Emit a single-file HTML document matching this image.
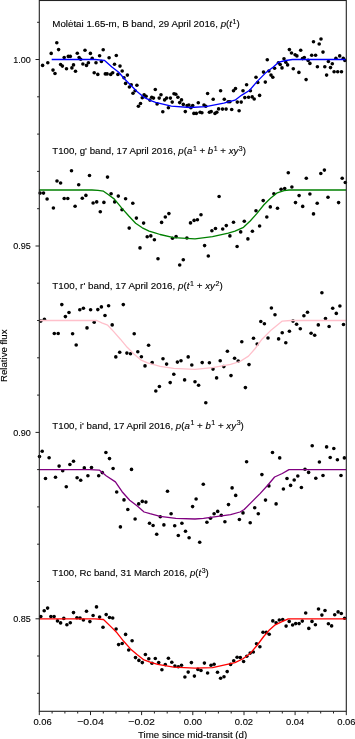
<!DOCTYPE html>
<html><head><meta charset="utf-8"><style>
html,body{margin:0;padding:0;background:#fff;width:355px;height:739px;overflow:hidden}
svg{display:block;filter:blur(0.35px)}
</style></head><body>
<svg width="355" height="739" viewBox="0 0 355 739">
<g fill="#000">
<circle cx="42.6" cy="65.4" r="1.8"/><circle cx="47.8" cy="62.7" r="1.8"/><circle cx="51.2" cy="53.4" r="1.8"/><circle cx="56.8" cy="42.8" r="1.8"/><circle cx="58.6" cy="49.6" r="1.8"/><circle cx="53.0" cy="70.1" r="1.8"/><circle cx="55.0" cy="73.5" r="1.8"/><circle cx="60.6" cy="64.5" r="1.8"/><circle cx="62.4" cy="66.1" r="1.8"/><circle cx="64.2" cy="57.5" r="1.8"/><circle cx="66.5" cy="68.8" r="1.8"/><circle cx="68.3" cy="56.4" r="1.8"/><circle cx="70.3" cy="56.4" r="1.8"/><circle cx="71.9" cy="67.9" r="1.8"/><circle cx="73.5" cy="64.9" r="1.8"/><circle cx="75.5" cy="71.2" r="1.8"/><circle cx="77.3" cy="53.2" r="1.8"/><circle cx="79.1" cy="57.5" r="1.8"/><circle cx="80.7" cy="59.3" r="1.8"/><circle cx="82.9" cy="64.0" r="1.8"/><circle cx="85.0" cy="50.3" r="1.8"/><circle cx="86.5" cy="65.4" r="1.8"/><circle cx="88.4" cy="62.7" r="1.8"/><circle cx="90.4" cy="53.4" r="1.8"/><circle cx="92.2" cy="58.2" r="1.8"/><circle cx="94.2" cy="72.8" r="1.8"/><circle cx="96.0" cy="62.7" r="1.8"/><circle cx="97.8" cy="74.4" r="1.8"/><circle cx="99.6" cy="55.7" r="1.8"/><circle cx="101.4" cy="61.5" r="1.8"/><circle cx="103.2" cy="49.8" r="1.8"/><circle cx="105.3" cy="73.9" r="1.8"/><circle cx="107.1" cy="73.9" r="1.8"/><circle cx="109.1" cy="57.7" r="1.8"/><circle cx="110.7" cy="74.4" r="1.8"/><circle cx="112.7" cy="72.8" r="1.8"/><circle cx="114.5" cy="64.3" r="1.8"/><circle cx="116.3" cy="55.5" r="1.8"/><circle cx="117.9" cy="74.4" r="1.8"/><circle cx="120.0" cy="66.1" r="1.8"/><circle cx="122.2" cy="71.0" r="1.8"/><circle cx="124.0" cy="77.8" r="1.8"/><circle cx="125.6" cy="83.4" r="1.8"/><circle cx="127.4" cy="75.1" r="1.8"/><circle cx="129.4" cy="87.0" r="1.8"/><circle cx="131.2" cy="84.8" r="1.8"/><circle cx="133.0" cy="93.3" r="1.8"/><circle cx="135.1" cy="90.8" r="1.8"/><circle cx="136.9" cy="85.2" r="1.8"/><circle cx="138.4" cy="106.2" r="1.8"/><circle cx="140.5" cy="103.5" r="1.8"/><circle cx="142.3" cy="97.8" r="1.8"/><circle cx="144.1" cy="94.7" r="1.8"/><circle cx="146.1" cy="96.3" r="1.8"/><circle cx="149.9" cy="100.1" r="1.8"/><circle cx="151.7" cy="97.2" r="1.8"/><circle cx="153.5" cy="98.1" r="1.8"/><circle cx="155.3" cy="89.5" r="1.8"/><circle cx="157.1" cy="103.9" r="1.8"/><circle cx="159.2" cy="98.1" r="1.8"/><circle cx="161.0" cy="94.7" r="1.8"/><circle cx="162.8" cy="111.8" r="1.8"/><circle cx="164.6" cy="99.9" r="1.8"/><circle cx="166.6" cy="98.1" r="1.8"/><circle cx="168.4" cy="107.7" r="1.8"/><circle cx="170.4" cy="98.1" r="1.8"/><circle cx="172.2" cy="102.1" r="1.8"/><circle cx="174.0" cy="93.8" r="1.8"/><circle cx="175.8" cy="94.2" r="1.8"/><circle cx="177.9" cy="97.2" r="1.8"/><circle cx="179.7" cy="102.6" r="1.8"/><circle cx="181.5" cy="99.9" r="1.8"/><circle cx="183.3" cy="104.4" r="1.8"/><circle cx="185.3" cy="111.6" r="1.8"/><circle cx="187.1" cy="105.5" r="1.8"/><circle cx="188.9" cy="105.0" r="1.8"/><circle cx="190.9" cy="107.7" r="1.8"/><circle cx="192.7" cy="105.5" r="1.8"/><circle cx="193.9" cy="113.4" r="1.8"/><circle cx="196.3" cy="113.4" r="1.8"/><circle cx="198.3" cy="102.8" r="1.8"/><circle cx="200.1" cy="112.3" r="1.8"/><circle cx="201.9" cy="112.7" r="1.8"/><circle cx="204.0" cy="105.0" r="1.8"/><circle cx="205.8" cy="106.2" r="1.8"/><circle cx="207.6" cy="93.5" r="1.8"/><circle cx="209.4" cy="112.3" r="1.8"/><circle cx="211.2" cy="111.6" r="1.8"/><circle cx="213.2" cy="99.2" r="1.8"/><circle cx="215.0" cy="113.4" r="1.8"/><circle cx="216.8" cy="112.3" r="1.8"/><circle cx="218.6" cy="108.9" r="1.8"/><circle cx="220.6" cy="90.8" r="1.8"/><circle cx="222.5" cy="109.1" r="1.8"/><circle cx="224.3" cy="99.2" r="1.8"/><circle cx="226.1" cy="109.1" r="1.8"/><circle cx="228.1" cy="101.7" r="1.8"/><circle cx="229.9" cy="101.7" r="1.8"/><circle cx="231.7" cy="109.5" r="1.8"/><circle cx="233.5" cy="90.8" r="1.8"/><circle cx="235.5" cy="88.6" r="1.8"/><circle cx="237.3" cy="102.1" r="1.8"/><circle cx="239.1" cy="110.7" r="1.8"/><circle cx="241.2" cy="102.1" r="1.8"/><circle cx="243.0" cy="90.8" r="1.8"/><circle cx="244.8" cy="97.6" r="1.8"/><circle cx="246.6" cy="84.8" r="1.8"/><circle cx="248.6" cy="97.2" r="1.8"/><circle cx="250.4" cy="90.8" r="1.8"/><circle cx="252.2" cy="96.9" r="1.8"/><circle cx="254.2" cy="99.0" r="1.8"/><circle cx="256.0" cy="77.3" r="1.8"/><circle cx="257.8" cy="82.5" r="1.8"/><circle cx="259.6" cy="95.4" r="1.8"/><circle cx="263.5" cy="72.1" r="1.8"/><circle cx="265.3" cy="82.1" r="1.8"/><circle cx="267.3" cy="59.7" r="1.8"/><circle cx="268.9" cy="71.0" r="1.8"/><circle cx="271.0" cy="75.1" r="1.8"/><circle cx="272.8" cy="77.3" r="1.8"/><circle cx="274.6" cy="68.3" r="1.8"/><circle cx="278.4" cy="62.7" r="1.8"/><circle cx="280.2" cy="64.5" r="1.8"/><circle cx="282.0" cy="67.9" r="1.8"/><circle cx="284.0" cy="58.8" r="1.8"/><circle cx="285.8" cy="62.2" r="1.8"/><circle cx="287.6" cy="64.9" r="1.8"/><circle cx="289.4" cy="49.6" r="1.8"/><circle cx="291.5" cy="53.0" r="1.8"/><circle cx="293.3" cy="68.8" r="1.8"/><circle cx="295.1" cy="54.8" r="1.8"/><circle cx="296.9" cy="55.9" r="1.8"/><circle cx="298.9" cy="72.4" r="1.8"/><circle cx="300.7" cy="50.3" r="1.8"/><circle cx="302.5" cy="58.6" r="1.8"/><circle cx="304.3" cy="57.5" r="1.8"/><circle cx="306.1" cy="79.6" r="1.8"/><circle cx="308.1" cy="60.4" r="1.8"/><circle cx="309.9" cy="63.4" r="1.8"/><circle cx="311.7" cy="55.2" r="1.8"/><circle cx="313.5" cy="41.7" r="1.8"/><circle cx="315.6" cy="55.2" r="1.8"/><circle cx="317.4" cy="66.7" r="1.8"/><circle cx="319.2" cy="44.0" r="1.8"/><circle cx="321.0" cy="39.0" r="1.8"/><circle cx="323.0" cy="52.1" r="1.8"/><circle cx="324.8" cy="66.7" r="1.8"/><circle cx="326.6" cy="75.1" r="1.8"/><circle cx="328.4" cy="61.5" r="1.8"/><circle cx="330.5" cy="67.6" r="1.8"/><circle cx="332.3" cy="63.8" r="1.8"/><circle cx="334.1" cy="71.7" r="1.8"/><circle cx="335.9" cy="58.2" r="1.8"/><circle cx="337.7" cy="71.7" r="1.8"/><circle cx="339.7" cy="55.9" r="1.8"/><circle cx="341.5" cy="71.7" r="1.8"/><circle cx="343.3" cy="58.2" r="1.8"/><circle cx="344.9" cy="60.4" r="1.8"/>
<circle cx="40.1" cy="193.1" r="1.8"/><circle cx="43.5" cy="193.1" r="1.8"/><circle cx="47.1" cy="199.0" r="1.8"/><circle cx="53.4" cy="208.0" r="1.8"/><circle cx="57.0" cy="181.0" r="1.8"/><circle cx="60.6" cy="183.0" r="1.8"/><circle cx="64.2" cy="198.5" r="1.8"/><circle cx="67.8" cy="198.5" r="1.8"/><circle cx="71.5" cy="170.8" r="1.8"/><circle cx="75.1" cy="206.2" r="1.8"/><circle cx="78.7" cy="184.8" r="1.8"/><circle cx="82.3" cy="198.3" r="1.8"/><circle cx="85.9" cy="195.4" r="1.8"/><circle cx="89.5" cy="175.5" r="1.8"/><circle cx="93.1" cy="203.0" r="1.8"/><circle cx="96.7" cy="201.9" r="1.8"/><circle cx="100.3" cy="211.8" r="1.8"/><circle cx="103.9" cy="202.4" r="1.8"/><circle cx="107.5" cy="177.1" r="1.8"/><circle cx="111.1" cy="193.8" r="1.8"/><circle cx="114.7" cy="201.9" r="1.8"/><circle cx="118.3" cy="196.1" r="1.8"/><circle cx="122.0" cy="209.8" r="1.8"/><circle cx="125.6" cy="198.8" r="1.8"/><circle cx="129.2" cy="228.1" r="1.8"/><circle cx="132.8" cy="203.3" r="1.8"/><circle cx="136.4" cy="218.1" r="1.8"/><circle cx="140.0" cy="247.9" r="1.8"/><circle cx="143.6" cy="223.1" r="1.8"/><circle cx="147.2" cy="236.8" r="1.8"/><circle cx="150.8" cy="235.9" r="1.8"/><circle cx="154.4" cy="239.8" r="1.8"/><circle cx="158.0" cy="258.7" r="1.8"/><circle cx="161.6" cy="222.4" r="1.8"/><circle cx="165.3" cy="217.0" r="1.8"/><circle cx="168.9" cy="213.6" r="1.8"/><circle cx="172.5" cy="238.2" r="1.8"/><circle cx="176.1" cy="236.6" r="1.8"/><circle cx="179.7" cy="265.0" r="1.8"/><circle cx="183.3" cy="259.8" r="1.8"/><circle cx="186.9" cy="238.0" r="1.8"/><circle cx="190.5" cy="222.9" r="1.8"/><circle cx="194.1" cy="220.4" r="1.8"/><circle cx="197.4" cy="219.7" r="1.8"/><circle cx="201.0" cy="214.8" r="1.8"/><circle cx="204.6" cy="245.6" r="1.8"/><circle cx="208.3" cy="256.0" r="1.8"/><circle cx="211.9" cy="230.8" r="1.8"/><circle cx="215.5" cy="228.5" r="1.8"/><circle cx="219.1" cy="196.5" r="1.8"/><circle cx="222.7" cy="229.0" r="1.8"/><circle cx="226.3" cy="225.6" r="1.8"/><circle cx="229.9" cy="235.9" r="1.8"/><circle cx="233.5" cy="222.2" r="1.8"/><circle cx="237.1" cy="246.5" r="1.8"/><circle cx="240.7" cy="231.9" r="1.8"/><circle cx="244.3" cy="221.3" r="1.8"/><circle cx="247.9" cy="238.9" r="1.8"/><circle cx="252.4" cy="231.2" r="1.8"/><circle cx="256.0" cy="210.7" r="1.8"/><circle cx="259.6" cy="226.0" r="1.8"/><circle cx="263.2" cy="200.6" r="1.8"/><circle cx="266.8" cy="217.0" r="1.8"/><circle cx="270.3" cy="206.9" r="1.8"/><circle cx="273.9" cy="193.8" r="1.8"/><circle cx="277.5" cy="208.2" r="1.8"/><circle cx="281.1" cy="189.3" r="1.8"/><circle cx="284.7" cy="188.6" r="1.8"/><circle cx="288.3" cy="172.8" r="1.8"/><circle cx="291.9" cy="187.0" r="1.8"/><circle cx="295.5" cy="202.6" r="1.8"/><circle cx="299.1" cy="195.6" r="1.8"/><circle cx="302.7" cy="206.4" r="1.8"/><circle cx="306.3" cy="178.3" r="1.8"/><circle cx="309.9" cy="194.0" r="1.8"/><circle cx="313.5" cy="213.9" r="1.8"/><circle cx="317.2" cy="203.3" r="1.8"/><circle cx="320.8" cy="173.5" r="1.8"/><circle cx="324.4" cy="170.1" r="1.8"/><circle cx="328.0" cy="197.2" r="1.8"/><circle cx="338.6" cy="202.6" r="1.8"/><circle cx="342.2" cy="178.3" r="1.8"/><circle cx="345.3" cy="182.5" r="1.8"/>
<circle cx="40.8" cy="321.1" r="1.8"/><circle cx="44.4" cy="319.3" r="1.8"/><circle cx="54.3" cy="333.5" r="1.8"/><circle cx="58.2" cy="333.5" r="1.8"/><circle cx="61.8" cy="304.6" r="1.8"/><circle cx="65.4" cy="316.6" r="1.8"/><circle cx="69.0" cy="312.5" r="1.8"/><circle cx="72.6" cy="333.7" r="1.8"/><circle cx="76.2" cy="345.0" r="1.8"/><circle cx="79.8" cy="309.8" r="1.8"/><circle cx="83.4" cy="308.3" r="1.8"/><circle cx="87.0" cy="327.9" r="1.8"/><circle cx="90.6" cy="309.8" r="1.8"/><circle cx="94.2" cy="322.2" r="1.8"/><circle cx="97.8" cy="309.6" r="1.8"/><circle cx="101.4" cy="306.9" r="1.8"/><circle cx="105.0" cy="315.5" r="1.8"/><circle cx="108.6" cy="305.8" r="1.8"/><circle cx="112.2" cy="324.9" r="1.8"/><circle cx="115.8" cy="356.9" r="1.8"/><circle cx="119.7" cy="352.2" r="1.8"/><circle cx="123.3" cy="304.6" r="1.8"/><circle cx="126.9" cy="353.1" r="1.8"/><circle cx="130.5" cy="353.8" r="1.8"/><circle cx="134.2" cy="333.7" r="1.8"/><circle cx="137.8" cy="351.7" r="1.8"/><circle cx="141.4" cy="356.7" r="1.8"/><circle cx="145.0" cy="365.9" r="1.8"/><circle cx="148.6" cy="345.2" r="1.8"/><circle cx="152.2" cy="362.6" r="1.8"/><circle cx="155.8" cy="391.0" r="1.8"/><circle cx="159.4" cy="386.5" r="1.8"/><circle cx="163.0" cy="358.7" r="1.8"/><circle cx="166.6" cy="364.1" r="1.8"/><circle cx="170.2" cy="382.6" r="1.8"/><circle cx="173.8" cy="374.3" r="1.8"/><circle cx="177.4" cy="362.1" r="1.8"/><circle cx="181.0" cy="360.8" r="1.8"/><circle cx="184.6" cy="379.9" r="1.8"/><circle cx="188.2" cy="356.9" r="1.8"/><circle cx="191.8" cy="365.0" r="1.8"/><circle cx="195.0" cy="381.7" r="1.8"/><circle cx="198.6" cy="385.3" r="1.8"/><circle cx="202.2" cy="362.6" r="1.8"/><circle cx="205.8" cy="402.7" r="1.8"/><circle cx="209.4" cy="362.8" r="1.8"/><circle cx="213.0" cy="369.1" r="1.8"/><circle cx="216.6" cy="377.9" r="1.8"/><circle cx="220.2" cy="360.8" r="1.8"/><circle cx="223.8" cy="366.6" r="1.8"/><circle cx="227.4" cy="351.3" r="1.8"/><circle cx="231.0" cy="375.6" r="1.8"/><circle cx="234.6" cy="358.3" r="1.8"/><circle cx="238.2" cy="361.0" r="1.8"/><circle cx="241.8" cy="341.8" r="1.8"/><circle cx="245.4" cy="387.6" r="1.8"/><circle cx="249.0" cy="364.6" r="1.8"/><circle cx="253.5" cy="338.2" r="1.8"/><circle cx="257.2" cy="344.1" r="1.8"/><circle cx="260.8" cy="321.5" r="1.8"/><circle cx="264.4" cy="323.8" r="1.8"/><circle cx="268.0" cy="338.0" r="1.8"/><circle cx="271.4" cy="308.0" r="1.8"/><circle cx="275.0" cy="314.8" r="1.8"/><circle cx="278.6" cy="338.9" r="1.8"/><circle cx="282.2" cy="332.8" r="1.8"/><circle cx="285.8" cy="342.7" r="1.8"/><circle cx="289.4" cy="331.2" r="1.8"/><circle cx="293.0" cy="321.1" r="1.8"/><circle cx="296.6" cy="324.3" r="1.8"/><circle cx="300.3" cy="328.8" r="1.8"/><circle cx="303.9" cy="315.7" r="1.8"/><circle cx="307.5" cy="312.3" r="1.8"/><circle cx="311.1" cy="333.3" r="1.8"/><circle cx="314.7" cy="335.3" r="1.8"/><circle cx="318.3" cy="324.9" r="1.8"/><circle cx="321.9" cy="292.7" r="1.8"/><circle cx="325.5" cy="318.6" r="1.8"/><circle cx="329.1" cy="326.5" r="1.8"/><circle cx="332.7" cy="308.3" r="1.8"/><circle cx="336.3" cy="313.4" r="1.8"/><circle cx="339.9" cy="306.0" r="1.8"/><circle cx="343.5" cy="324.5" r="1.8"/>
<circle cx="39.5" cy="456.6" r="1.8"/><circle cx="42.2" cy="451.2" r="1.8"/><circle cx="45.5" cy="478.5" r="1.8"/><circle cx="49.1" cy="457.7" r="1.8"/><circle cx="55.5" cy="477.3" r="1.8"/><circle cx="59.1" cy="466.1" r="1.8"/><circle cx="62.7" cy="470.8" r="1.8"/><circle cx="66.3" cy="486.8" r="1.8"/><circle cx="69.9" cy="464.5" r="1.8"/><circle cx="73.5" cy="461.3" r="1.8"/><circle cx="77.1" cy="477.8" r="1.8"/><circle cx="80.7" cy="480.3" r="1.8"/><circle cx="84.3" cy="467.9" r="1.8"/><circle cx="87.9" cy="475.7" r="1.8"/><circle cx="91.5" cy="467.6" r="1.8"/><circle cx="98.7" cy="475.7" r="1.8"/><circle cx="102.3" cy="472.6" r="1.8"/><circle cx="105.9" cy="452.5" r="1.8"/><circle cx="109.5" cy="458.6" r="1.8"/><circle cx="113.1" cy="468.5" r="1.8"/><circle cx="116.7" cy="492.0" r="1.8"/><circle cx="120.4" cy="526.9" r="1.8"/><circle cx="124.0" cy="499.9" r="1.8"/><circle cx="127.8" cy="509.5" r="1.8"/><circle cx="131.5" cy="469.4" r="1.8"/><circle cx="135.1" cy="519.0" r="1.8"/><circle cx="138.7" cy="503.9" r="1.8"/><circle cx="142.3" cy="501.4" r="1.8"/><circle cx="145.9" cy="502.1" r="1.8"/><circle cx="149.5" cy="523.3" r="1.8"/><circle cx="153.1" cy="525.5" r="1.8"/><circle cx="156.7" cy="534.3" r="1.8"/><circle cx="160.3" cy="516.8" r="1.8"/><circle cx="163.9" cy="524.9" r="1.8"/><circle cx="167.5" cy="491.3" r="1.8"/><circle cx="171.1" cy="513.8" r="1.8"/><circle cx="174.7" cy="525.8" r="1.8"/><circle cx="178.3" cy="535.5" r="1.8"/><circle cx="181.9" cy="523.3" r="1.8"/><circle cx="185.5" cy="531.2" r="1.8"/><circle cx="189.1" cy="537.7" r="1.8"/><circle cx="192.6" cy="506.6" r="1.8"/><circle cx="196.1" cy="499.0" r="1.8"/><circle cx="199.7" cy="542.2" r="1.8"/><circle cx="203.3" cy="484.3" r="1.8"/><circle cx="206.9" cy="522.2" r="1.8"/><circle cx="210.5" cy="518.3" r="1.8"/><circle cx="214.1" cy="513.8" r="1.8"/><circle cx="217.7" cy="511.4" r="1.8"/><circle cx="221.3" cy="515.2" r="1.8"/><circle cx="224.9" cy="521.7" r="1.8"/><circle cx="228.5" cy="504.6" r="1.8"/><circle cx="232.1" cy="487.9" r="1.8"/><circle cx="235.7" cy="495.4" r="1.8"/><circle cx="239.4" cy="519.5" r="1.8"/><circle cx="243.0" cy="512.9" r="1.8"/><circle cx="246.6" cy="461.8" r="1.8"/><circle cx="250.2" cy="522.8" r="1.8"/><circle cx="254.7" cy="507.7" r="1.8"/><circle cx="258.3" cy="513.8" r="1.8"/><circle cx="261.9" cy="474.6" r="1.8"/><circle cx="265.5" cy="500.1" r="1.8"/><circle cx="268.9" cy="485.9" r="1.8"/><circle cx="272.5" cy="452.5" r="1.8"/><circle cx="276.1" cy="503.9" r="1.8"/><circle cx="279.7" cy="457.9" r="1.8"/><circle cx="283.4" cy="489.0" r="1.8"/><circle cx="287.0" cy="478.5" r="1.8"/><circle cx="290.6" cy="485.4" r="1.8"/><circle cx="294.2" cy="480.0" r="1.8"/><circle cx="297.8" cy="476.0" r="1.8"/><circle cx="301.4" cy="487.5" r="1.8"/><circle cx="305.0" cy="469.2" r="1.8"/><circle cx="308.6" cy="472.4" r="1.8"/><circle cx="312.2" cy="445.8" r="1.8"/><circle cx="315.8" cy="478.2" r="1.8"/><circle cx="319.4" cy="462.0" r="1.8"/><circle cx="323.0" cy="475.5" r="1.8"/><circle cx="326.6" cy="446.9" r="1.8"/><circle cx="330.2" cy="457.5" r="1.8"/><circle cx="333.8" cy="448.5" r="1.8"/><circle cx="337.4" cy="459.7" r="1.8"/><circle cx="341.0" cy="475.5" r="1.8"/><circle cx="344.4" cy="457.9" r="1.8"/>
<circle cx="40.8" cy="616.6" r="1.8"/><circle cx="44.2" cy="610.8" r="1.8"/><circle cx="47.6" cy="608.1" r="1.8"/><circle cx="50.9" cy="616.6" r="1.8"/><circle cx="54.1" cy="616.6" r="1.8"/><circle cx="57.5" cy="620.9" r="1.8"/><circle cx="60.6" cy="622.9" r="1.8"/><circle cx="63.8" cy="618.4" r="1.8"/><circle cx="66.9" cy="624.7" r="1.8"/><circle cx="70.3" cy="622.7" r="1.8"/><circle cx="73.5" cy="612.6" r="1.8"/><circle cx="76.9" cy="617.8" r="1.8"/><circle cx="80.0" cy="618.0" r="1.8"/><circle cx="83.4" cy="620.0" r="1.8"/><circle cx="86.5" cy="611.2" r="1.8"/><circle cx="89.9" cy="621.6" r="1.8"/><circle cx="93.1" cy="615.5" r="1.8"/><circle cx="96.5" cy="606.9" r="1.8"/><circle cx="99.6" cy="617.1" r="1.8"/><circle cx="103.0" cy="627.2" r="1.8"/><circle cx="106.2" cy="614.6" r="1.8"/><circle cx="109.5" cy="617.5" r="1.8"/><circle cx="112.7" cy="618.0" r="1.8"/><circle cx="116.1" cy="629.0" r="1.8"/><circle cx="118.6" cy="644.6" r="1.8"/><circle cx="122.2" cy="643.5" r="1.8"/><circle cx="125.6" cy="634.4" r="1.8"/><circle cx="128.7" cy="650.0" r="1.8"/><circle cx="132.1" cy="640.7" r="1.8"/><circle cx="135.5" cy="657.6" r="1.8"/><circle cx="138.9" cy="660.4" r="1.8"/><circle cx="142.3" cy="662.6" r="1.8"/><circle cx="145.4" cy="654.5" r="1.8"/><circle cx="148.8" cy="658.8" r="1.8"/><circle cx="152.0" cy="663.3" r="1.8"/><circle cx="155.3" cy="658.5" r="1.8"/><circle cx="158.7" cy="662.6" r="1.8"/><circle cx="161.9" cy="669.8" r="1.8"/><circle cx="165.3" cy="664.6" r="1.8"/><circle cx="168.4" cy="658.3" r="1.8"/><circle cx="171.8" cy="662.2" r="1.8"/><circle cx="174.9" cy="666.0" r="1.8"/><circle cx="178.3" cy="666.7" r="1.8"/><circle cx="181.5" cy="665.3" r="1.8"/><circle cx="184.9" cy="677.0" r="1.8"/><circle cx="188.2" cy="672.1" r="1.8"/><circle cx="191.4" cy="662.6" r="1.8"/><circle cx="194.4" cy="676.1" r="1.8"/><circle cx="197.9" cy="669.4" r="1.8"/><circle cx="201.0" cy="670.5" r="1.8"/><circle cx="204.4" cy="663.1" r="1.8"/><circle cx="207.6" cy="673.0" r="1.8"/><circle cx="211.0" cy="665.3" r="1.8"/><circle cx="214.1" cy="664.2" r="1.8"/><circle cx="217.5" cy="672.3" r="1.8"/><circle cx="220.6" cy="678.2" r="1.8"/><circle cx="224.0" cy="676.8" r="1.8"/><circle cx="227.2" cy="671.6" r="1.8"/><circle cx="230.6" cy="664.4" r="1.8"/><circle cx="233.7" cy="660.8" r="1.8"/><circle cx="237.1" cy="657.2" r="1.8"/><circle cx="240.3" cy="657.6" r="1.8"/><circle cx="243.6" cy="661.5" r="1.8"/><circle cx="246.8" cy="656.3" r="1.8"/><circle cx="250.2" cy="653.1" r="1.8"/><circle cx="253.3" cy="652.0" r="1.8"/><circle cx="256.5" cy="643.7" r="1.8"/><circle cx="259.9" cy="646.8" r="1.8"/><circle cx="263.0" cy="632.2" r="1.8"/><circle cx="266.3" cy="632.4" r="1.8"/><circle cx="269.2" cy="634.3" r="1.8"/><circle cx="272.8" cy="620.9" r="1.8"/><circle cx="276.1" cy="622.7" r="1.8"/><circle cx="279.3" cy="620.0" r="1.8"/><circle cx="282.7" cy="619.6" r="1.8"/><circle cx="286.1" cy="626.1" r="1.8"/><circle cx="289.2" cy="621.4" r="1.8"/><circle cx="292.6" cy="625.0" r="1.8"/><circle cx="295.7" cy="623.6" r="1.8"/><circle cx="299.1" cy="623.6" r="1.8"/><circle cx="302.3" cy="621.1" r="1.8"/><circle cx="305.7" cy="613.0" r="1.8"/><circle cx="308.8" cy="628.4" r="1.8"/><circle cx="312.0" cy="621.4" r="1.8"/><circle cx="315.4" cy="624.7" r="1.8"/><circle cx="318.5" cy="609.0" r="1.8"/><circle cx="321.9" cy="615.1" r="1.8"/><circle cx="325.0" cy="610.5" r="1.8"/><circle cx="328.4" cy="623.8" r="1.8"/><circle cx="331.6" cy="625.9" r="1.8"/><circle cx="334.7" cy="614.8" r="1.8"/><circle cx="338.1" cy="611.9" r="1.8"/><circle cx="341.3" cy="613.5" r="1.8"/><circle cx="344.6" cy="618.2" r="1.8"/>
</g>
<polyline points="51.7,59.5 95.0,59.5 104.3,60.3 111.9,66.9 118.7,72.3 124.6,79.0 130.5,85.0 137.3,91.7 144.0,97.3 150.8,100.7 155.6,102.3 171.3,106.2 190.0,107.5 205.8,106.6 223.8,103.2 235.0,100.2 241.8,95.1 249.4,90.5 257.0,81.6 265.4,73.1 273.0,67.2 278.9,62.1 285.7,60.5 292.5,59.5 345.5,59.5" fill="none" stroke="#0000ff" stroke-width="1.3" stroke-linejoin="round"/>
<polyline points="39.0,190.0 92.0,190.0 98.0,190.3 103.5,191.2 108.5,194.8 114.4,199.1 122.0,208.4 128.8,216.0 135.6,223.2 142.3,227.8 149.1,231.2 155.0,232.9 160.1,234.5 173.6,237.7 195.0,238.9 212.5,236.6 228.3,233.2 235.0,231.2 243.5,227.3 250.2,221.0 257.0,213.4 263.7,205.0 270.5,198.2 277.3,192.8 284.0,190.6 289.1,190.0 346.0,190.0" fill="none" stroke="#008000" stroke-width="1.3" stroke-linejoin="round"/>
<polyline points="39.0,320.5 96.8,320.5 101.8,322.8 107.7,325.2 113.7,331.6 120.4,339.2 127.2,347.3 133.9,353.9 140.7,359.8 147.5,362.9 160.1,366.4 173.6,368.4 195.0,369.3 212.5,367.7 230.6,364.4 240.0,361.5 248.5,356.1 255.2,348.5 262.0,339.2 271.3,329.9 282.3,321.1 290.7,320.5 346.0,320.5" fill="none" stroke="#ffc0cb" stroke-width="1.3" stroke-linejoin="round"/>
<polyline points="39.0,469.6 90.0,469.6 99.3,470.1 106.1,475.7 115.4,481.9 122.1,491.7 129.7,500.2 137.3,506.1 144.1,512.0 150.0,513.7 160.1,516.3 175.8,518.3 195.0,519.0 203.5,518.3 230.6,514.7 240.0,512.0 244.2,509.5 251.8,501.9 260.3,493.4 267.9,485.0 274.6,477.0 282.3,473.5 289.0,469.6 346.0,469.6" fill="none" stroke="#800080" stroke-width="1.3" stroke-linejoin="round"/>
<polyline points="39.0,618.8 95.0,618.8 103.5,619.5 111.1,626.9 117.0,632.8 123.7,641.3 130.5,648.9 137.3,654.8 144.0,659.9 150.8,662.4 157.8,664.4 173.6,667.1 195.0,668.2 212.5,667.6 235.0,662.7 242.6,659.0 250.2,653.4 257.0,645.5 263.7,636.5 268.8,630.6 274.7,625.2 281.5,621.8 288.2,618.8 346.0,618.8" fill="none" stroke="#ff0000" stroke-width="1.3" stroke-linejoin="round"/>
<rect x="39.3" y="0.5" width="307.0" height="710.8" fill="none" stroke="#222" stroke-width="1.1"/>
<line x1="37.1" y1="693.3" x2="39.3" y2="693.3" stroke="#222" stroke-width="1"/>
<line x1="37.1" y1="656.0" x2="39.3" y2="656.0" stroke="#222" stroke-width="1"/>
<line x1="35.5" y1="618.8" x2="39.3" y2="618.8" stroke="#222" stroke-width="1"/>
<line x1="37.1" y1="581.5" x2="39.3" y2="581.5" stroke="#222" stroke-width="1"/>
<line x1="37.1" y1="544.2" x2="39.3" y2="544.2" stroke="#222" stroke-width="1"/>
<line x1="37.1" y1="506.9" x2="39.3" y2="506.9" stroke="#222" stroke-width="1"/>
<line x1="37.1" y1="469.6" x2="39.3" y2="469.6" stroke="#222" stroke-width="1"/>
<line x1="35.5" y1="432.4" x2="39.3" y2="432.4" stroke="#222" stroke-width="1"/>
<line x1="37.1" y1="395.1" x2="39.3" y2="395.1" stroke="#222" stroke-width="1"/>
<line x1="37.1" y1="357.8" x2="39.3" y2="357.8" stroke="#222" stroke-width="1"/>
<line x1="37.1" y1="320.5" x2="39.3" y2="320.5" stroke="#222" stroke-width="1"/>
<line x1="37.1" y1="283.2" x2="39.3" y2="283.2" stroke="#222" stroke-width="1"/>
<line x1="35.5" y1="246.0" x2="39.3" y2="246.0" stroke="#222" stroke-width="1"/>
<line x1="37.1" y1="208.7" x2="39.3" y2="208.7" stroke="#222" stroke-width="1"/>
<line x1="37.1" y1="171.4" x2="39.3" y2="171.4" stroke="#222" stroke-width="1"/>
<line x1="37.1" y1="134.1" x2="39.3" y2="134.1" stroke="#222" stroke-width="1"/>
<line x1="37.1" y1="96.8" x2="39.3" y2="96.8" stroke="#222" stroke-width="1"/>
<line x1="35.5" y1="59.5" x2="39.3" y2="59.5" stroke="#222" stroke-width="1"/>
<line x1="37.1" y1="22.3" x2="39.3" y2="22.3" stroke="#222" stroke-width="1"/>
<line x1="39.3" y1="711.3" x2="39.3" y2="715.1" stroke="#222" stroke-width="1"/>
<line x1="52.1" y1="711.3" x2="52.1" y2="713.5" stroke="#222" stroke-width="1"/>
<line x1="64.9" y1="711.3" x2="64.9" y2="713.5" stroke="#222" stroke-width="1"/>
<line x1="77.7" y1="711.3" x2="77.7" y2="713.5" stroke="#222" stroke-width="1"/>
<line x1="90.5" y1="711.3" x2="90.5" y2="715.1" stroke="#222" stroke-width="1"/>
<line x1="103.3" y1="711.3" x2="103.3" y2="713.5" stroke="#222" stroke-width="1"/>
<line x1="116.0" y1="711.3" x2="116.0" y2="713.5" stroke="#222" stroke-width="1"/>
<line x1="128.8" y1="711.3" x2="128.8" y2="713.5" stroke="#222" stroke-width="1"/>
<line x1="141.6" y1="711.3" x2="141.6" y2="715.1" stroke="#222" stroke-width="1"/>
<line x1="154.4" y1="711.3" x2="154.4" y2="713.5" stroke="#222" stroke-width="1"/>
<line x1="167.2" y1="711.3" x2="167.2" y2="713.5" stroke="#222" stroke-width="1"/>
<line x1="180.0" y1="711.3" x2="180.0" y2="713.5" stroke="#222" stroke-width="1"/>
<line x1="192.8" y1="711.3" x2="192.8" y2="715.1" stroke="#222" stroke-width="1"/>
<line x1="205.6" y1="711.3" x2="205.6" y2="713.5" stroke="#222" stroke-width="1"/>
<line x1="218.4" y1="711.3" x2="218.4" y2="713.5" stroke="#222" stroke-width="1"/>
<line x1="231.2" y1="711.3" x2="231.2" y2="713.5" stroke="#222" stroke-width="1"/>
<line x1="244.0" y1="711.3" x2="244.0" y2="715.1" stroke="#222" stroke-width="1"/>
<line x1="256.8" y1="711.3" x2="256.8" y2="713.5" stroke="#222" stroke-width="1"/>
<line x1="269.6" y1="711.3" x2="269.6" y2="713.5" stroke="#222" stroke-width="1"/>
<line x1="282.3" y1="711.3" x2="282.3" y2="713.5" stroke="#222" stroke-width="1"/>
<line x1="295.1" y1="711.3" x2="295.1" y2="715.1" stroke="#222" stroke-width="1"/>
<line x1="307.9" y1="711.3" x2="307.9" y2="713.5" stroke="#222" stroke-width="1"/>
<line x1="320.7" y1="711.3" x2="320.7" y2="713.5" stroke="#222" stroke-width="1"/>
<line x1="333.5" y1="711.3" x2="333.5" y2="713.5" stroke="#222" stroke-width="1"/>
<line x1="346.3" y1="711.3" x2="346.3" y2="715.1" stroke="#222" stroke-width="1"/>
<text x="30.8" y="62.8" font-family="Liberation Sans, sans-serif" stroke="#000" stroke-width="0.12" font-size="9.3" text-anchor="end" textLength="17.6" lengthAdjust="spacingAndGlyphs" fill="#000">1.00</text>
<text x="30.8" y="249.3" font-family="Liberation Sans, sans-serif" stroke="#000" stroke-width="0.12" font-size="9.3" text-anchor="end" textLength="17.6" lengthAdjust="spacingAndGlyphs" fill="#000">0.95</text>
<text x="30.8" y="435.6" font-family="Liberation Sans, sans-serif" stroke="#000" stroke-width="0.12" font-size="9.3" text-anchor="end" textLength="17.6" lengthAdjust="spacingAndGlyphs" fill="#000">0.90</text>
<text x="30.8" y="622.0" font-family="Liberation Sans, sans-serif" stroke="#000" stroke-width="0.12" font-size="9.3" text-anchor="end" textLength="17.6" lengthAdjust="spacingAndGlyphs" fill="#000">0.85</text>
<text x="33.4" y="725.4" font-family="Liberation Sans, sans-serif" stroke="#000" stroke-width="0.12" font-size="9.3" textLength="18.3" lengthAdjust="spacingAndGlyphs">0.06</text>
<text x="77.2" y="725.4" font-family="Liberation Sans, sans-serif" stroke="#000" stroke-width="0.12" font-size="9.3" textLength="26.6" lengthAdjust="spacingAndGlyphs">−0.04</text>
<text x="128.3" y="725.4" font-family="Liberation Sans, sans-serif" stroke="#000" stroke-width="0.12" font-size="9.3" textLength="26.6" lengthAdjust="spacingAndGlyphs">−0.02</text>
<text x="183.7" y="725.4" font-family="Liberation Sans, sans-serif" stroke="#000" stroke-width="0.12" font-size="9.3" textLength="18.3" lengthAdjust="spacingAndGlyphs">0.00</text>
<text x="234.8" y="725.4" font-family="Liberation Sans, sans-serif" stroke="#000" stroke-width="0.12" font-size="9.3" textLength="18.3" lengthAdjust="spacingAndGlyphs">0.02</text>
<text x="286.0" y="725.4" font-family="Liberation Sans, sans-serif" stroke="#000" stroke-width="0.12" font-size="9.3" textLength="18.3" lengthAdjust="spacingAndGlyphs">0.04</text>
<text x="337.2" y="725.4" font-family="Liberation Sans, sans-serif" stroke="#000" stroke-width="0.12" font-size="9.3" textLength="18.3" lengthAdjust="spacingAndGlyphs">0.06</text>
<text x="138.0" y="737.7" font-family="Liberation Sans, sans-serif" stroke="#000" stroke-width="0.12" font-size="8.8" textLength="109.2" lengthAdjust="spacingAndGlyphs">Time since mid-transit (d)</text>
<text transform="translate(7.2,382) rotate(-90)" x="0" y="0" font-family="Liberation Sans, sans-serif" stroke="#000" stroke-width="0.12" font-size="8.8" textLength="52.5" lengthAdjust="spacingAndGlyphs">Relative flux</text>
<text x="52.3" y="27.0" font-family="Liberation Sans, sans-serif" stroke="#000" stroke-width="0.12" font-size="8.9" textLength="187.5" lengthAdjust="spacingAndGlyphs"><tspan>Molėtai 1.65-m, B band, 29 April 2016, </tspan><tspan font-style="italic">p</tspan><tspan>(</tspan><tspan font-style="italic">t</tspan><tspan font-size="6.4" dx="0.5" dy="-3.3">1</tspan><tspan dy="3.3">)</tspan></text>
<text x="52.3" y="154.3" font-family="Liberation Sans, sans-serif" stroke="#000" stroke-width="0.12" font-size="8.9" textLength="193.7" lengthAdjust="spacingAndGlyphs"><tspan>T100, g' band, 17 April 2016, </tspan><tspan font-style="italic">p</tspan><tspan>(</tspan><tspan font-style="italic">a</tspan><tspan font-size="6.4" dx="0.5" dy="-3.3">1</tspan><tspan dy="3.3"> + </tspan><tspan font-style="italic">b</tspan><tspan font-size="6.4" dx="0.5" dy="-3.3">1</tspan><tspan dy="3.3"> + </tspan><tspan font-style="italic">xy</tspan><tspan font-size="6.4" dx="0.5" dy="-3.3">3</tspan><tspan dy="3.3">)</tspan></text>
<text x="52.3" y="289.1" font-family="Liberation Sans, sans-serif" stroke="#000" stroke-width="0.12" font-size="8.9" textLength="170.5" lengthAdjust="spacingAndGlyphs"><tspan>T100, r' band, 17 April 2016, </tspan><tspan font-style="italic">p</tspan><tspan>(</tspan><tspan font-style="italic">t</tspan><tspan font-size="6.4" dx="0.5" dy="-3.3">1</tspan><tspan dy="3.3"> + </tspan><tspan font-style="italic">xy</tspan><tspan font-size="6.4" dx="0.5" dy="-3.3">2</tspan><tspan dy="3.3">)</tspan></text>
<text x="52.3" y="428.7" font-family="Liberation Sans, sans-serif" stroke="#000" stroke-width="0.12" font-size="8.9" textLength="191.5" lengthAdjust="spacingAndGlyphs"><tspan>T100, i' band, 17 April 2016, </tspan><tspan font-style="italic">p</tspan><tspan>(</tspan><tspan font-style="italic">a</tspan><tspan font-size="6.4" dx="0.5" dy="-3.3">1</tspan><tspan dy="3.3"> + </tspan><tspan font-style="italic">b</tspan><tspan font-size="6.4" dx="0.5" dy="-3.3">1</tspan><tspan dy="3.3"> + </tspan><tspan font-style="italic">xy</tspan><tspan font-size="6.4" dx="0.5" dy="-3.3">3</tspan><tspan dy="3.3">)</tspan></text>
<text x="52.3" y="575.8" font-family="Liberation Sans, sans-serif" stroke="#000" stroke-width="0.12" font-size="8.9" textLength="156.5" lengthAdjust="spacingAndGlyphs"><tspan>T100, Rc band, 31 March 2016, </tspan><tspan font-style="italic">p</tspan><tspan>(</tspan><tspan font-style="italic">t</tspan><tspan font-size="6.4" dx="0.5" dy="-3.3">3</tspan><tspan dy="3.3">)</tspan></text>
</svg>
</body></html>
